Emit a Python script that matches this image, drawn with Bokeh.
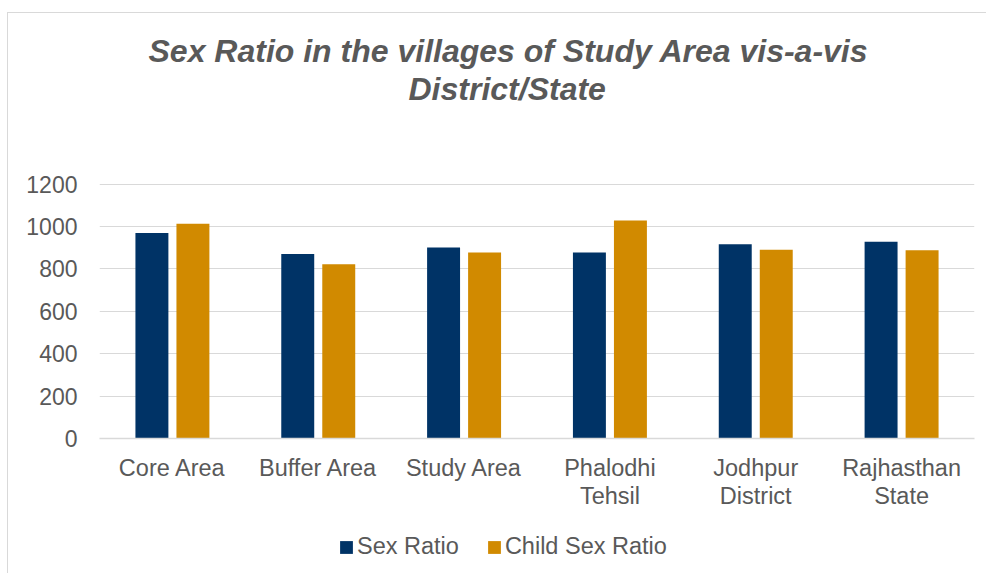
from bokeh.plotting import figure
from bokeh.layouts import column
from bokeh.models import ColumnDataSource, FactorRange, FixedTicker, Legend, LegendItem, Range1d, Title
from bokeh.transform import dodge
from bokeh.embed import file_html
from bokeh.resources import INLINE

categories = ["Core Area", "Buffer Area", "Study Area", "Phalodhi\nTehsil", "Jodhpur\nDistrict", "Rajhasthan\nState"]
sex_ratio = [969, 870, 901, 878, 916, 928]
child_sex_ratio = [1013, 822, 878, 1028, 890, 888]
y_ticks = [0, 200, 400, 600, 800, 1000, 1200]
title_lines = ["Sex Ratio in the villages of Study Area vis-a-vis", "District/State"]
series_names = ["Sex Ratio", "Child Sex Ratio"]

FONT = "Liberation Sans"
GREY = "#595959"
NAVY = "#003366"
GOLD = "#D18A00"

src = ColumnDataSource(dict(cat=categories, sr=sex_ratio, csr=child_sex_ratio))

p = figure(x_range=FactorRange(*categories, range_padding=0), y_range=Range1d(0, 1203),
           width=978, height=510, output_backend="svg", toolbar_location=None,
           min_border_left=91, min_border_right=12, min_border_top=170, min_border_bottom=85)

p.vbar(x=dodge("cat", -0.1406, range=p.x_range), top="sr", width=0.226, source=src,
       fill_color=NAVY, line_color=None)
p.vbar(x=dodge("cat", 0.1406, range=p.x_range), top="csr", width=0.226, source=src,
       fill_color=GOLD, line_color=None)

def style_title(t, off):
    t.align = "left"
    t.offset = off
    t.standoff = 0
    t.text_font = FONT
    t.text_font_size = "32px"
    t.text_font_style = "bold italic"
    t.text_color = GREY

# spacer between the title block and the plot frame
gap = Title(text=" ", text_font_size="1px", standoff=74)
p.add_layout(gap, "above")
t2 = Title(text=title_lines[1])
style_title(t2, 309)
p.add_layout(t2, "above")
p.title.text = title_lines[0]
style_title(p.title, 49)

p.outline_line_color = None
p.xgrid.grid_line_color = None
p.ygrid.grid_line_color = "#d9d9d9"
p.ygrid.grid_line_width = 1
p.yaxis.ticker = FixedTicker(ticks=y_ticks)

p.yaxis.axis_line_color = None
p.yaxis.major_tick_line_color = None
p.yaxis.minor_tick_line_color = None
p.yaxis.major_tick_out = 0
p.yaxis.major_tick_in = 0
p.yaxis.major_label_standoff = 22
p.yaxis.major_label_text_font = FONT
p.yaxis.major_label_text_font_size = "23px"
p.yaxis.major_label_text_color = GREY

p.xaxis.axis_line_color = "#d9d9d9"
p.xaxis.axis_line_width = 1.5
p.xaxis.major_tick_line_color = None
p.xaxis.minor_tick_line_color = None
p.xaxis.major_tick_out = 0
p.xaxis.major_tick_in = 0
p.xaxis.major_label_standoff = 16
p.xaxis.major_label_text_font = FONT
p.xaxis.major_label_text_font_size = "23.5px"
p.xaxis.major_label_text_color = GREY
p.xaxis.major_label_text_line_height = 1.1

# legend strip: same data, bars fall outside its (empty) view range
lf = figure(x_range=FactorRange(*categories), y_range=Range1d(5000, 5001),
            width=978, height=50, output_backend="svg", toolbar_location=None,
            min_border=0, x_axis_type=None, y_axis_type=None)
lf.outline_line_color = None
lf.grid.visible = False
l1 = lf.vbar(x="cat", top="sr", width=0.2, source=src, fill_color=NAVY, line_color=None)
l2 = lf.vbar(x="cat", top="csr", width=0.2, source=src, fill_color=GOLD, line_color=None)
legend = Legend(items=[LegendItem(label=series_names[0], renderers=[l1]),
                       LegendItem(label=series_names[1], renderers=[l2])],
                orientation="horizontal", location=(239, 13),
                padding=0, margin=0, spacing=27, label_standoff=3,
                glyph_width=16, glyph_height=16,
                label_text_font=FONT, label_text_font_size="23.5px", label_text_color=GREY,
                border_line_color=None, background_fill_alpha=0)
lf.add_layout(legend, "center")

layout = column(p, lf, spacing=0)
layout.styles = {"border-left": "1px solid #d9d9d9", "border-top": "1px solid #d9d9d9",
                 "margin-top": "12px", "margin-left": "7px"}

open("out.html", "w").write(file_html(layout, INLINE))
